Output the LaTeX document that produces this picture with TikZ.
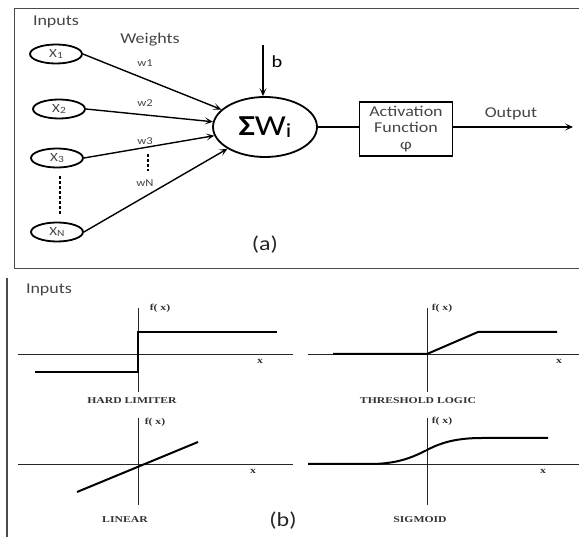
\documentclass[tikz,border=0pt]{standalone}
\usepackage{fontspec}
\setmainfont[FakeStretch=1.2]{Carlito}
\newfontfamily\serifb[FakeStretch=1.3]{Liberation Serif}
\usetikzlibrary{shapes.geometric,arrows.meta}
\definecolor{txt}{HTML}{454545}
\definecolor{frame}{HTML}{4A4A4A}
\tikzset{
  inp/.style={ellipse,draw,line width=1.8pt,minimum width=52pt,minimum height=19pt,inner sep=0pt,text=txt,font=\fontsize{12.5}{12}\selectfont},
  conn/.style={line width=1.4pt,-{Stealth[length=8pt,width=7pt,inset=4pt]}},
  lbl/.style={text=txt,inner sep=0pt},
  wlbl/.style={text=txt,inner sep=0pt,font=\fontsize{10.5}{10}\selectfont},
  axis/.style={line width=0.9pt,draw=black!85},
  curve/.style={line width=2pt},
  caplbl/.style={inner sep=0pt,font=\serifb\bfseries\fontsize{9}{9}\selectfont,text=black!80},
  fx/.style={inner sep=0pt,font=\serifb\bfseries\fontsize{9}{9}\selectfont,text=black!80},
}
\newcommand{\sub}[1]{\raisebox{-0.8pt}{\fontsize{9.5}{9}\selectfont #1}}
\begin{document}
\begin{tikzpicture}[x=1pt,y=-1pt]
\useasboundingbox (0,0) rectangle (579,537);
% frames
\draw[frame,line width=1pt] (579,9) -- (14,9) -- (14,269) -- (579,269);
\draw[frame,line width=1.2pt] (7,278) -- (7,537);
% panel (a)
\node[lbl,font=\fontsize{15}{15}\selectfont] (inA) at (56,22) {Inputs};
\node[lbl,font=\fontsize{15}{15}\selectfont] (wts) at (150,40) {Weights};
\node[inp] (x1) at (56,54) {X\sub{1}};
\node[inp] (x2) at (59,109) {X\sub{2}};
\node[inp] (x3) at (57,158) {X\sub{3}};
\node[inp] (xn) at (57,232) {X\sub{N}};
\draw[line width=1.8pt,dash pattern=on 3pt off 2pt] (x3.south) ++(3,8) coordinate (d1) -- (d1 |- 0,214) coordinate (d2);
\node[ellipse,draw,line width=1.8pt,minimum width=104pt,minimum height=60pt,inner sep=0pt,font=\fontsize{29}{29}\selectfont] (sum) at (265,127) {\textbf{Σ}W\raisebox{-2pt}{\fontsize{20}{20}\selectfont i}};
\draw[conn] (x1.east) -- (sum);
\draw[conn] (x2.east) -- (sum);
\draw[conn] (x3.east) -- (sum);
\draw[conn] (xn.east) -- (sum);
\node[wlbl] (w1) at (145,63) {w1};
\node[wlbl] (w2) at (145,103) {w2};
\node[wlbl] (w3) at (145,141) {w3};
\node[wlbl] (wn) at (145,183) {wN};
\draw[line width=1.8pt,dash pattern=on 3pt off 2pt] (w3.south) ++(3,9) coordinate (e1) -- (e1 |- 0,171) coordinate (e2);
\coordinate (btop) at (263,45);
\draw[conn] (btop) -- (btop |- sum.north);
\node[lbl,text=black,font=\fontsize{17}{17}\selectfont] (b) at (277,62) {b};
\node[draw,line width=1.8pt,minimum width=93pt,minimum height=54pt,inner sep=0pt,align=center,text=txt,font=\fontsize{15}{16.5}\selectfont] (act) at (406,129) {Activation\\Function\\φ};
\draw[line width=1.4pt] (sum.east) -- (act.west |- sum.east);
\coordinate (out) at (573,127);
\draw[conn] (act.east |- out) -- (out);
\node[lbl,font=\fontsize{15}{15}\selectfont] (outl) at (511,114) {Output};
\node[inner sep=0pt,text=black!85,font=\fontsize{20}{20}\selectfont] (a) at (265,245) {(a)};
% panel (b)
\node[lbl,font=\fontsize{15}{15}\selectfont] (inB) at (49,290) {Inputs};
% hard limiter
\draw[axis] (18,354) -- (293,354);
\draw[axis] (138,308) -- (138,392);
\draw[curve] (35,372) -- (138,372) -- (138,332) -- (277,332);
\node[fx] (f1) at (160,308) {f( x)};
\node[fx] (xl1) at (260,361) {x};
\node[caplbl] (c1) at (132,401) {HARD LIMITER};
% linear
\draw[axis] (18,464) -- (293,464);
\draw[axis] (138,418) -- (138,505);
\draw[curve] (77,492) -- (198,442);
\node[fx] (f2) at (155,422) {f( x)};
\node[fx] (xl2) at (253,471) {x};
\node[caplbl] (c2) at (125,520) {LINEAR};
% threshold logic
\draw[axis] (308,354) -- (579,354);
\draw[axis] (427,308) -- (427,392);
\draw[curve] (333,354) -- (427,354) -- (478,332) -- (557,332);
\node[fx] (f3) at (442,308) {f( x)};
\node[fx] (xl3) at (559,361) {x};
\node[caplbl] (c3) at (418,401) {THRESHOLD LOGIC};
% sigmoid
\draw[axis] (308,464) -- (579,464);
\draw[axis] (427,418) -- (427,505);
\draw[curve] (308,464) -- (370,464) .. controls (398,464) and (413,457) .. (427,450) .. controls (442,442) and (458,438) .. (482,438) -- (548,438);
\node[fx] (f4) at (442,421) {f( x)};
\node[fx] (xl4) at (543,471) {x};
\node[caplbl] (c4) at (420,520) {SIGMOID};
\node[inner sep=0pt,text=black!85,font=\fontsize{20}{20}\selectfont] (bb) at (283,521) {(b)};
\end{tikzpicture}
\end{document}
